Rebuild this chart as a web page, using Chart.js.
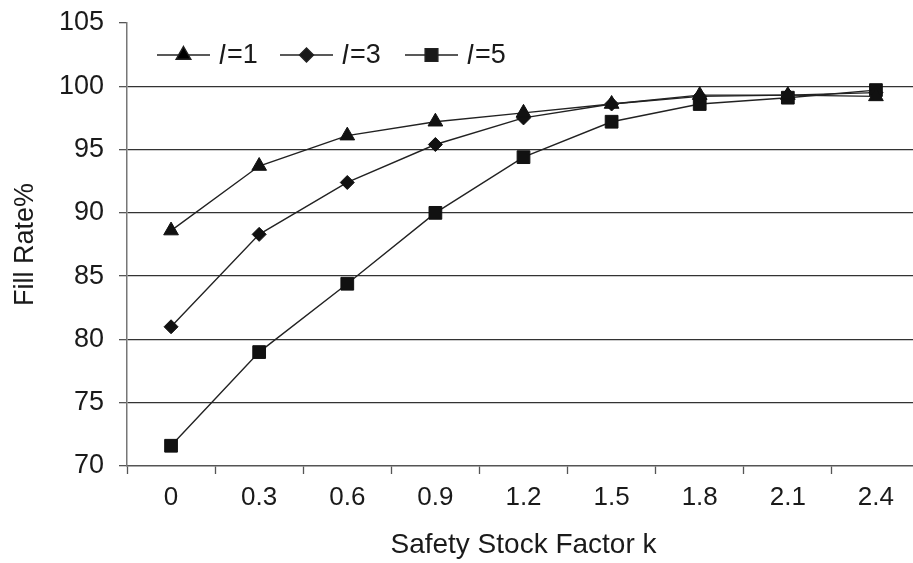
<!DOCTYPE html>
<html>
<head>
<meta charset="utf-8">
<script src="https://cdn.jsdelivr.net/npm/chart.js@4/dist/chart.umd.min.js"></script>
<style>
  html, body { margin: 0; padding: 0; background: #fff; overflow: hidden; width: 913px; height: 563px; }
  #wrap { width: 930px; height: 563px; }
</style>
</head>
<body>
<div id="wrap"><canvas id="c" width="930" height="563"></canvas></div>
<script>
const categories = ['0', '0.3', '0.6', '0.9', '1.2', '1.5', '1.8', '2.1', '2.4'];
const l1 = [88.6, 93.7, 96.1, 97.2, 97.9, 98.6, 99.3, 99.3, 99.2];
const l3 = [81.0, 88.3, 92.4, 95.4, 97.5, 98.6, 99.2, 99.3, 99.5];
const l5 = [71.6, 79.0, 84.4, 90.0, 94.4, 97.2, 98.6, 99.1, 99.7];
const seriesNames = ['1', '3', '5'];
const yTicks = [70, 75, 80, 85, 90, 95, 100, 105];

const FONT = 'Liberation Sans, Arial, sans-serif';
const INK = '#1a1a1a';

const legendPlugin = {
  id: 'customLegend',
  afterDraw(chart) {
    const ctx = chart.ctx;
    const area = chart.chartArea;
    const y = 55;
    const starts = [area.left + 30, area.left + 153, area.left + 278];
    ctx.save();
    chart.data.datasets.forEach((ds, i) => {
      const x0 = starts[i];
      ctx.strokeStyle = ds.borderColor;
      ctx.lineWidth = ds.borderWidth;
      ctx.beginPath();
      ctx.moveTo(x0, y);
      ctx.lineTo(x0 + 53, y);
      ctx.stroke();
      Chart.helpers.drawPoint(ctx, {
        pointStyle: ds.pointStyle,
        radius: ds.pointRadius,
        rotation: 0,
        borderWidth: 1
      }, x0 + 26.5, y);
      ctx.fillStyle = INK;
      ctx.textBaseline = 'middle';
      ctx.textAlign = 'left';
      ctx.font = 'italic 27px ' + FONT;
      const tx = x0 + 62;
      ctx.fillText('l', tx, y + 1);
      const w = ctx.measureText('l').width;
      ctx.font = '27px ' + FONT;
      ctx.fillText('=' + seriesNames[i], tx + w + 2, y + 1);
    });
    ctx.restore();
  }
};

function mk(label, data, style, r) {
  return {
    label: label,
    data: data,
    borderColor: '#222',
    backgroundColor: '#111',
    borderWidth: 1.4,
    pointStyle: style,
    pointRadius: r,
    pointHoverRadius: r,
    pointBackgroundColor: '#111',
    pointBorderColor: '#111',
    pointBorderWidth: 1,
    tension: 0,
    fill: false
  };
}

new Chart(document.getElementById('c'), {
  type: 'line',
  data: {
    labels: categories,
    datasets: [
      mk('l=1', l1, 'triangle', 8.5),
      mk('l=3', l3, 'rectRot', 7),
      mk('l=5', l5, 'rect', 9)
    ]
  },
  options: {
    responsive: false,
    animation: false,
    layout: { padding: { left: 0, right: 6, top: 23, bottom: 0 } },
    plugins: { legend: { display: false }, tooltip: { enabled: false } },
    scales: {
      x: {
        type: 'category',
        offset: true,
        grid: {
          offset: true,
          drawOnChartArea: false,
          drawTicks: true,
          tickLength: 8,
          tickColor: '#555',
          tickWidth: 1.3
        },
        border: { display: true, color: '#555', width: 1.5 },
        ticks: { color: INK, font: { family: FONT, size: 26 }, padding: 8, maxRotation: 0, autoSkip: false },
        title: { display: true, text: 'Safety Stock Factor k', color: INK, font: { family: FONT, size: 28 }, padding: { top: 0, bottom: 1 } },
        afterFit(scale) { scale.height = 97; scale.paddingLeft = 0; scale.paddingRight = 0; }
      },
      y: {
        min: 70,
        max: 105,
        afterBuildTicks(scale) { scale.ticks = yTicks.map(v => ({ value: v })); },
        grid: {
          drawTicks: true,
          tickLength: 8,
          tickColor: '#555',
          tickWidth: 1.3,
          lineWidth: 1.3,
          color: ctx => (ctx.tick && (ctx.tick.value === 105 || ctx.tick.value === 70)) ? 'rgba(0,0,0,0)' : '#333'
        },
        border: { display: true, color: '#777', width: 1.5 },
        ticks: { color: INK, font: { family: FONT, size: 27 }, padding: 15 },
        title: { display: true, text: 'Fill Rate%', color: INK, font: { family: FONT, size: 27 }, padding: { top: 9, bottom: 0 } },
        afterFit(scale) { scale.width = 127; scale.paddingTop = 0; scale.paddingBottom = 0; }
      }
    }
  },
  plugins: [legendPlugin]
});
</script>
</body>
</html>
